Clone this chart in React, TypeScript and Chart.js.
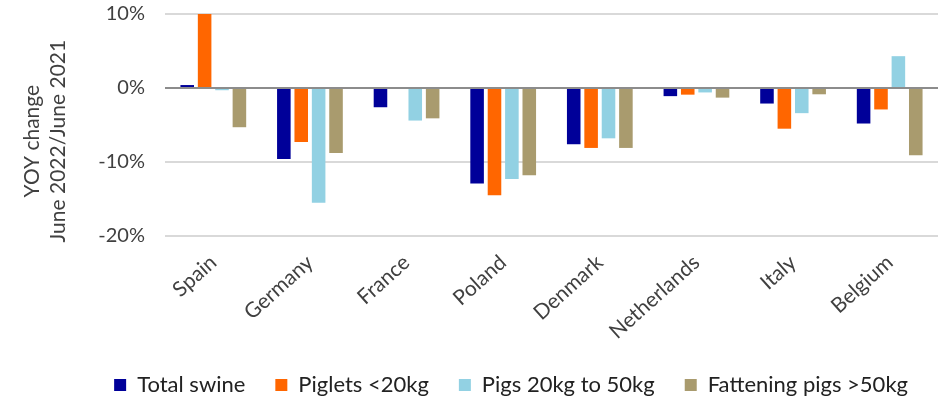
import React, { useEffect, useRef } from "react";
import { Chart, registerables } from "chart.js";

Chart.register(...registerables);

const categories = ["Spain", "Germany", "France", "Poland", "Denmark", "Netherlands", "Italy", "Belgium"];
const totalSwine = [0.4, -9.6, -2.6, -12.9, -7.6, -1.1, -2.1, -4.8];
const piglets = [10.0, -7.3, 0, -14.5, -8.1, -0.9, -5.5, -2.9];
const pigs20to50 = [-0.3, -15.5, -4.4, -12.3, -6.8, -0.6, -3.4, 4.3];
const fattening = [-5.3, -8.8, -4.1, -11.8, -8.1, -1.3, -0.85, -9.1];
const seriesNames = ["Total swine", "Piglets <20kg", "Pigs 20kg to 50kg", "Fattening pigs >50kg"];
const seriesColors = ["#000099", "#FF6600", "#92D1E3", "#A99B6E"];
const yTicks = [-20, -10, 0, 10];
const yTitle = ["YOY change", "June 2022/June 2021"];

const FONT = "Lato, sans-serif";
const TEXT = "#404040";
const PAD = "\u00A0\u00A0\u00A0\u00A0\u00A0\u00A0";

export default function App() {
  const ref = useRef<HTMLCanvasElement | null>(null);
  useEffect(() => {
    if (!ref.current) return;
    const data = [totalSwine, piglets, pigs20to50, fattening];
    const chart = new Chart(ref.current, {
      type: "bar",
      data: {
        labels: categories,
        datasets: data.map((d, i) => ({
          label: seriesNames[i],
          data: d,
          backgroundColor: seriesColors[i],
          borderWidth: 0,
          barPercentage: 0.78,
          categoryPercentage: 0.72,
        })),
      },
      options: {
        animation: false,
        responsive: false,
        maintainAspectRatio: false,
        layout: { padding: { top: 14, right: 4, left: 0, bottom: -6 } },
        plugins: {
          legend: {
            position: "bottom",
            align: "end",
            labels: {
              boxWidth: 12,
              boxHeight: 12,
              padding: 30,
              color: "#222",
              font: { family: FONT, size: 22 },
            },
          },
          tooltip: { enabled: false },
        },
        scales: {
          x: {
            grid: { display: false },
            border: { display: false },
            ticks: {
              color: TEXT,
              font: { family: FONT, size: 21 },
              minRotation: 42,
              maxRotation: 42,
              padding: 6,
            },
            afterFit: (s: any) => {
              s.height = 108;
            },
          },
          y: {
            min: -20,
            max: 10,
            afterBuildTicks: (s: any) => {
              s.ticks = yTicks.map((v) => ({ value: v }));
            },
            grid: {
              drawTicks: false,
              lineWidth: 2,
              color: (c: any) => (c.tick && c.tick.value === 0 ? "#8C8C8C" : "#D9D9D9"),
            },
            border: { display: false },
            ticks: {
              color: TEXT,
              padding: 20,
              font: { family: FONT, size: 20 },
              callback: (v: any) => v + "%",
            },
            title: {
              display: true,
              text: yTitle.map((t) => t + PAD),
              color: TEXT,
              font: { family: FONT, size: 21 },
              padding: { top: 20, bottom: 0 },
            },
            afterFit: (s: any) => {
              s.width = 165;
              s.paddingTop = 0;
              s.paddingBottom = 0;
            },
          },
        },
      },
    });
    return () => chart.destroy();
  }, []);
  return (
    <div style={{ position: "fixed", left: 0, top: 0, width: 942, height: 400, background: "#fff" }}>
      <canvas ref={ref} width={942} height={400} style={{ width: 942, height: 400 }} />
    </div>
  );
}
